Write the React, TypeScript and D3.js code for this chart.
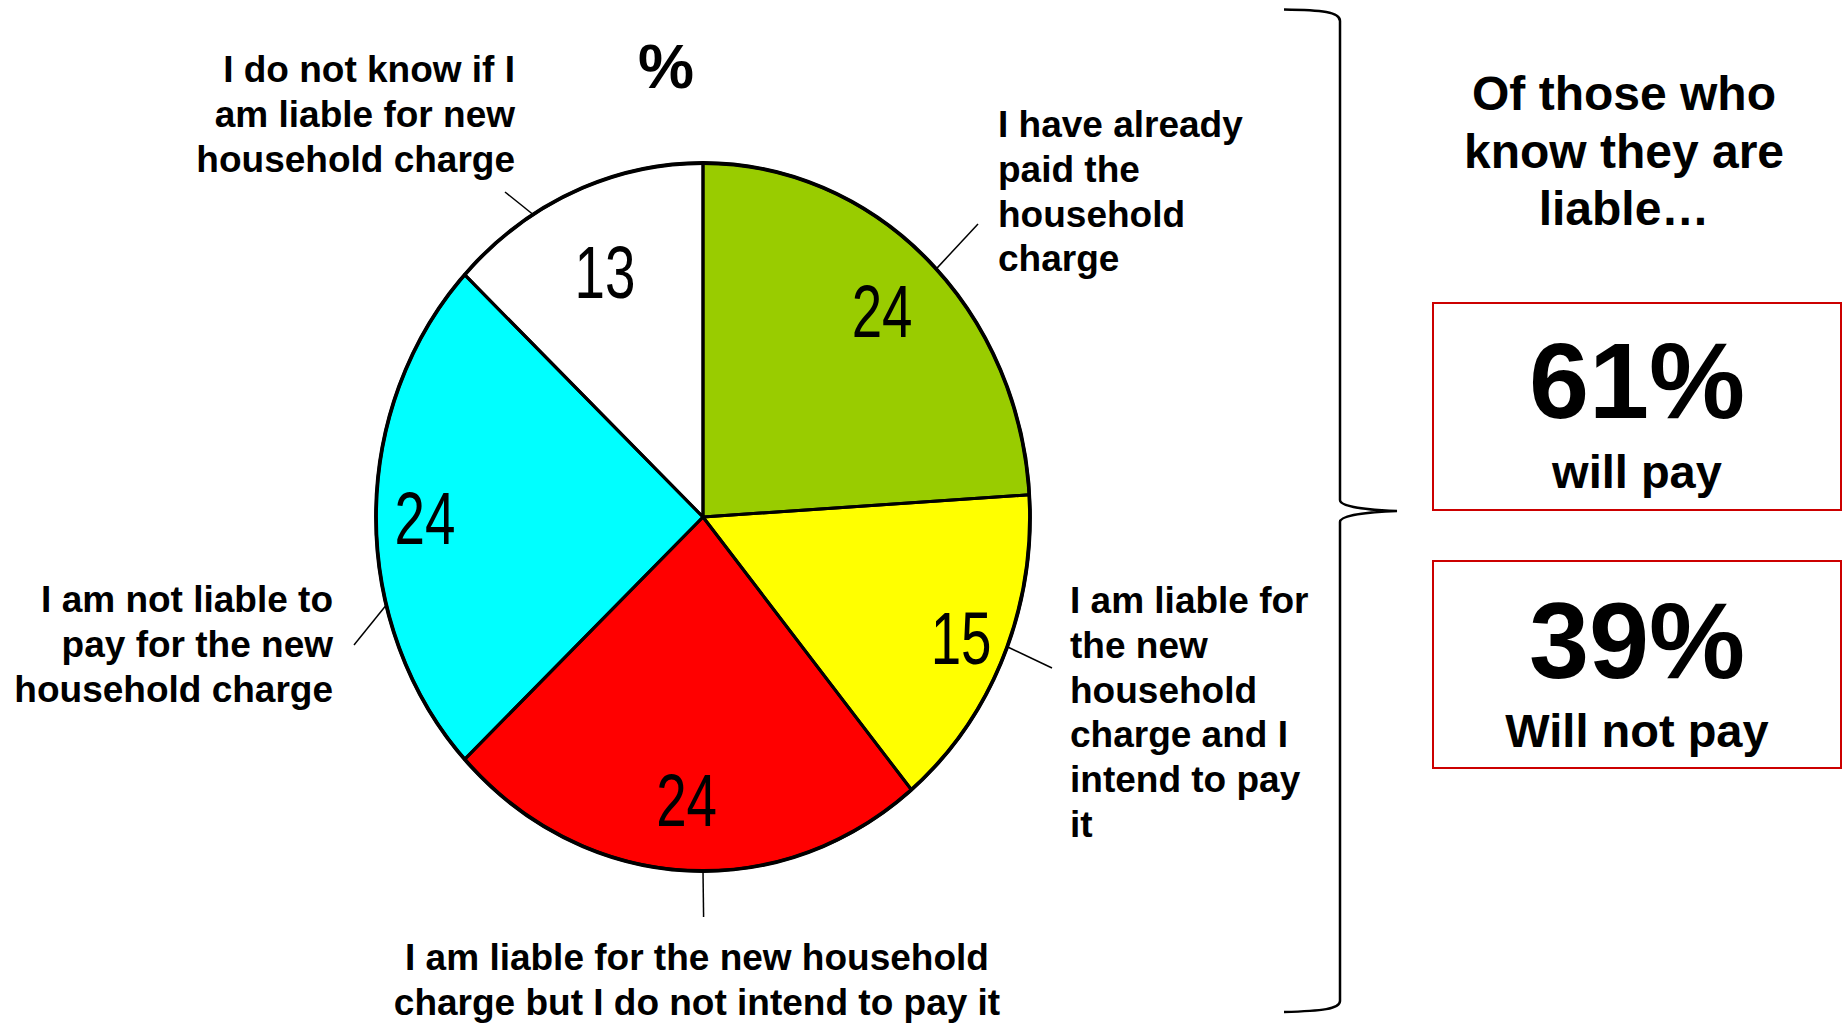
import React from "react";
import * as d3 from "d3";

// ---- data ----
const categories = [
  "I have already paid the household charge",
  "I am liable for the new household charge and I intend to pay it",
  "I am liable for the new household charge but I do not intend to pay it",
  "I am not liable to pay for the new household charge",
  "I do not know if I am liable for new household charge",
];
const values = [24, 15, 24, 24, 13];
const sliceColors = ["#99CC00", "#FFFF00", "#FF0000", "#00FFFF", "#FFFFFF"];

// wrapped label lines as in the original
const labelLines = [
  ["I have already", "paid the", "household", "charge"],
  ["I am liable for", "the new", "household", "charge and I", "intend to pay", "it"],
  ["I am liable for the new household", "charge but I do not intend to pay it"],
  ["I am not liable to", "pay for the new", "household charge"],
  ["I do not know if I", "am liable for new", "household charge"],
];

const summaryTitle = ["Of those who", "know they are", "liable…"];
const summaryValues = ["61%", "39%"];
const summaryLabels = ["will pay", "Will not pay"];
const unitLabel = "%";

// ---- layout ----
const W = 1843;
const H = 1023;
const cx = 703;
const cy = 517;
const rx = 327;
const ry = 354;
const R0 = 100;
const labelK = [0.8, 0.86, 0.8, 0.85, 0.755];
const labelLayout = [
  { x: 998, y: 137, anchor: "start", leaderDeg: 45.5, end: [978, 224] },
  { x: 1070, y: 613, anchor: "start", leaderDeg: 111.5, end: [1052, 668] },
  { x: 697, y: 970, anchor: "middle", leaderDeg: 180, end: [703.6, 917] },
  { x: 333, y: 612, anchor: "end", leaderDeg: 255.6, end: [354, 645] },
  { x: 515, y: 82, anchor: "end", leaderDeg: 328.7, end: [505, 192] },
];
const lineH = 44.8;
const FONT = "'Liberation Sans', Arial, Helvetica, sans-serif";

export default function App() {
  const pie = d3
    .pie<number>()
    .sort(null)
    .value((d) => d)
    .startAngle(0)
    .endAngle(2 * Math.PI);
  const arcs = pie(values);
  const arc = d3.arc<d3.PieArcDatum<number>>().innerRadius(0).outerRadius(R0);

  const ellipsePt = (ang: number, k: number) => [
    cx + k * rx * Math.sin(ang),
    cy - k * ry * Math.cos(ang),
  ];

  const boxes = [
    { y: 303, h: 207, valY: 418, labY: 488 },
    { y: 561, h: 207, valY: 678, labY: 747 },
  ];

  return (
    <svg
      width={W}
      height={H}
      style={{ position: "absolute", left: 0, top: 0, background: "#fff" }}
      fontFamily={FONT}
    >
      <rect x={0} y={0} width={W} height={H} fill="#fff" />
      {/* pie (elliptical) */}
      <g transform={`translate(${cx},${cy}) scale(${rx / R0},${ry / R0})`}>
        {arcs.map((a, i) => (
          <path key={"f" + i} d={arc(a) as string} fill={sliceColors[i]} stroke="none" />
        ))}
        {arcs.map((a, i) => (
          <path
            key={"s" + i}
            d={arc(a) as string}
            fill="none"
            stroke="#000"
            strokeWidth={3}
            strokeLinejoin="round"
            vectorEffect="non-scaling-stroke"
          />
        ))}
        <ellipse
          cx={0}
          cy={0}
          rx={R0}
          ry={R0}
          fill="none"
          stroke="#000"
          strokeWidth={3.8}
          vectorEffect="non-scaling-stroke"
        />
      </g>
      {/* value labels */}
      {arcs.map((a, i) => {
        const mid = (a.startAngle + a.endAngle) / 2;
        const [x, y] = ellipsePt(mid, labelK[i]);
        return (
          <text
            key={i}
            transform={`translate(${x},${y + 26.5}) scale(0.74,1)`}
            textAnchor="middle"
            fontSize={74}
            fill="#000"
          >
            {values[i]}
          </text>
        );
      })}
      {/* leader lines */}
      {labelLayout.map((l, i) => {
        const [x1, y1] = ellipsePt((l.leaderDeg * Math.PI) / 180, 1);
        return (
          <line
            key={i}
            x1={x1}
            y1={y1}
            x2={l.end[0]}
            y2={l.end[1]}
            stroke="#000"
            strokeWidth={1.5}
          />
        );
      })}
      {/* category labels */}
      {labelLayout.map((l, i) => (
        <text
          key={i}
          x={l.x}
          y={l.y}
          textAnchor={l.anchor as any}
          fontSize={37}
          fontWeight="bold"
          fill="#000"
        >
          {labelLines[i].map((s, j) => (
            <tspan key={j} x={l.x} y={l.y + j * lineH}>
              {s}
            </tspan>
          ))}
        </text>
      ))}
      {/* unit */}
      <text x={666} y={88} textAnchor="middle" fontSize={63} fontWeight="bold">
        {unitLabel}
      </text>
      {/* brace */}
      <path
        d="M1284,9.5 C1322,10 1340,12 1340,21 L1340,500 C1340,507 1368,510 1397,511 C1368,512 1340,515 1340,522 L1340,1001 C1340,1009 1322,1011 1284,1012"
        fill="none"
        stroke="#000"
        strokeWidth={2.5}
      />
      {/* summary title */}
      <text textAnchor="middle" fontSize={48} fontWeight="bold">
        {summaryTitle.map((s, j) => (
          <tspan key={j} x={1624} y={110 + j * 57.5}>
            {s}
          </tspan>
        ))}
      </text>
      {/* summary boxes */}
      {boxes.map((b, i) => (
        <g key={i}>
          <rect
            x={1433}
            y={b.y}
            width={408}
            height={b.h}
            fill="#fff"
            stroke="#CC0000"
            strokeWidth={2}
          />
          <text x={1637} y={b.valY} textAnchor="middle" fontSize={108} fontWeight="bold">
            {summaryValues[i]}
          </text>
          <text x={1637} y={b.labY} textAnchor="middle" fontSize={47} fontWeight="bold">
            {summaryLabels[i]}
          </text>
        </g>
      ))}
    </svg>
  );
}
